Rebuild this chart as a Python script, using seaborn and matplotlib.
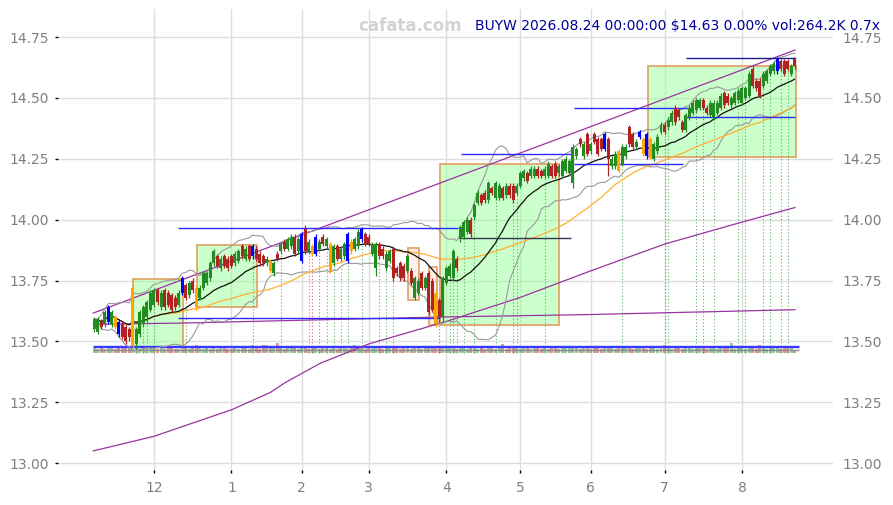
import numpy as np
import pandas as pd
import matplotlib
matplotlib.use("Agg")
import matplotlib.pyplot as plt
import seaborn as sns
from matplotlib.patches import Rectangle

# trading calendar (US market holidays in range)
holidays = ["2025-11-27", "2025-12-25", "2026-01-01", "2026-01-19", "2026-02-16",
            "2026-04-03", "2026-05-25", "2026-06-19", "2026-07-03"]

opens = [13.55, 13.54, 13.58, 13.57, 13.58, 13.57, 13.60, 13.58, 13.57, 13.56,
         13.55, 13.48, 13.49, 13.53, 13.57, 13.60, 13.63, 13.65, 13.71, 13.64,
         13.71, 13.70, 13.69, 13.68, 13.65, 13.70, 13.73, 13.69, 13.75, 13.72,
         13.68, 13.72, 13.74, 13.76, 13.82, 13.85, 13.80, 13.85, 13.84, 13.85,
         13.82, 13.83, 13.89, 13.84, 13.89, 13.85, 13.88, 13.86, 13.85, 13.82,
         13.83, 13.78, 13.86, 13.87, 13.91, 13.88, 13.89, 13.93, 13.87, 13.83,
         13.96, 13.87, 13.89, 13.86, 13.88, 13.93, 13.89, 13.90, 13.82, 13.89,
         13.84, 13.85, 13.83, 13.91, 13.88, 13.89, 13.92, 13.94, 13.93, 13.86,
         13.80, 13.90, 13.88, 13.80, 13.83, 13.88, 13.80, 13.82, 13.81, 13.79,
         13.79, 13.68, 13.70, 13.78, 13.72, 13.78, 13.75, 13.70, 13.67, 13.60,
         13.74, 13.77, 13.76, 13.84, 13.92, 13.93, 13.95, 14.00, 14.01, 14.07,
         14.10, 14.11, 14.08, 14.13, 14.09, 14.09, 14.13, 14.10, 14.14, 14.14,
         14.11, 14.14, 14.17, 14.19, 14.18, 14.18, 14.21, 14.20, 14.18, 14.18,
         14.22, 14.23, 14.19, 14.18, 14.20, 14.19, 14.15, 14.26, 14.33, 14.26,
         14.35, 14.28, 14.35, 14.33, 14.33, 14.29, 14.33, 14.22, 14.22, 14.28,
         14.23, 14.26, 14.38, 14.35, 14.30, 14.34, 14.33, 14.26, 14.33, 14.25,
         14.28, 14.36, 14.39, 14.38, 14.40, 14.46, 14.45, 14.40, 14.37, 14.42,
         14.44, 14.45, 14.46, 14.49, 14.46, 14.43, 14.42, 14.44, 14.46, 14.52,
         14.51, 14.47, 14.48, 14.49, 14.48, 14.50, 14.51, 14.62, 14.57, 14.57,
         14.55, 14.57, 14.60, 14.61, 14.61, 14.65, 14.65, 14.65, 14.60, 14.66]
closes = [13.59, 13.59, 13.56, 13.62, 13.64, 13.62, 13.56, 13.53, 13.52, 13.50,
          13.52, 13.72, 13.55, 13.62, 13.64, 13.66, 13.70, 13.71, 13.66, 13.70,
          13.64, 13.65, 13.63, 13.64, 13.70, 13.76, 13.68, 13.74, 13.71, 13.64,
          13.72, 13.78, 13.78, 13.82, 13.87, 13.81, 13.84, 13.81, 13.80, 13.81,
          13.86, 13.87, 13.85, 13.88, 13.84, 13.89, 13.84, 13.82, 13.82, 13.84,
          13.79, 13.82, 13.84, 13.90, 13.88, 13.92, 13.93, 13.86, 13.92, 13.94,
          13.87, 13.91, 13.86, 13.93, 13.91, 13.90, 13.92, 13.79, 13.89, 13.84,
          13.88, 13.90, 13.94, 13.87, 13.92, 13.95, 13.96, 13.90, 13.90, 13.90,
          13.90, 13.85, 13.85, 13.86, 13.87, 13.76, 13.78, 13.76, 13.76, 13.85,
          13.74, 13.76, 13.75, 13.72, 13.76, 13.62, 13.63, 13.57, 13.60, 13.76,
          13.80, 13.81, 13.87, 13.80, 13.97, 13.99, 14.00, 13.94, 14.06, 14.11,
          14.07, 14.08, 14.15, 14.11, 14.15, 14.14, 14.09, 14.14, 14.10, 14.08,
          14.14, 14.19, 14.20, 14.16, 14.21, 14.21, 14.18, 14.18, 14.21, 14.23,
          14.18, 14.18, 14.22, 14.24, 14.25, 14.24, 14.30, 14.29, 14.31, 14.31,
          14.27, 14.31, 14.32, 14.27, 14.29, 14.35, 14.25, 14.25, 14.27, 14.20,
          14.30, 14.30, 14.31, 14.30, 14.32, 14.36, 14.27, 14.35, 14.26, 14.31,
          14.34, 14.39, 14.36, 14.41, 14.44, 14.40, 14.42, 14.37, 14.43, 14.46,
          14.48, 14.49, 14.49, 14.46, 14.44, 14.48, 14.48, 14.48, 14.51, 14.47,
          14.48, 14.50, 14.52, 14.53, 14.54, 14.54, 14.60, 14.55, 14.54, 14.51,
          14.60, 14.61, 14.63, 14.64, 14.66, 14.62, 14.60, 14.62, 14.63, 14.63]
highs = [13.60, 13.60, 13.59, 13.63, 13.65, 13.63, 13.61, 13.59, 13.58, 13.57,
         13.56, 13.73, 13.56, 13.63, 13.65, 13.67, 13.71, 13.72, 13.72, 13.71,
         13.72, 13.71, 13.70, 13.69, 13.71, 13.77, 13.74, 13.75, 13.76, 13.73,
         13.73, 13.79, 13.79, 13.83, 13.88, 13.86, 13.85, 13.86, 13.85, 13.86,
         13.87, 13.88, 13.90, 13.89, 13.90, 13.90, 13.89, 13.87, 13.86, 13.85,
         13.84, 13.83, 13.87, 13.91, 13.92, 13.93, 13.94, 13.94, 13.93, 13.95,
         13.98, 13.92, 13.90, 13.94, 13.92, 13.94, 13.93, 13.91, 13.90, 13.90,
         13.89, 13.91, 13.95, 13.92, 13.93, 13.96, 13.97, 13.95, 13.94, 13.91,
         13.91, 13.91, 13.89, 13.87, 13.88, 13.89, 13.81, 13.83, 13.82, 13.86,
         13.80, 13.77, 13.76, 13.79, 13.77, 13.79, 13.76, 13.71, 13.68, 13.77,
         13.81, 13.82, 13.88, 13.85, 13.98, 14.00, 14.01, 14.01, 14.07, 14.12,
         14.11, 14.12, 14.16, 14.14, 14.16, 14.15, 14.14, 14.15, 14.15, 14.15,
         14.15, 14.20, 14.21, 14.20, 14.22, 14.22, 14.22, 14.21, 14.22, 14.24,
         14.23, 14.24, 14.23, 14.25, 14.26, 14.25, 14.31, 14.30, 14.34, 14.32,
         14.36, 14.32, 14.36, 14.34, 14.34, 14.36, 14.34, 14.26, 14.28, 14.29,
         14.31, 14.31, 14.39, 14.36, 14.33, 14.37, 14.34, 14.36, 14.34, 14.32,
         14.35, 14.40, 14.40, 14.42, 14.45, 14.47, 14.46, 14.41, 14.44, 14.47,
         14.49, 14.50, 14.50, 14.50, 14.47, 14.49, 14.49, 14.49, 14.52, 14.53,
         14.52, 14.51, 14.53, 14.54, 14.55, 14.55, 14.61, 14.63, 14.58, 14.58,
         14.61, 14.62, 14.64, 14.65, 14.67, 14.66, 14.66, 14.66, 14.64, 14.67]
lows = [13.54, 13.53, 13.55, 13.56, 13.57, 13.56, 13.55, 13.52, 13.51, 13.49,
        13.50, 13.47, 13.47, 13.52, 13.56, 13.58, 13.62, 13.64, 13.65, 13.63,
        13.63, 13.64, 13.62, 13.63, 13.64, 13.69, 13.67, 13.68, 13.70, 13.63,
        13.67, 13.71, 13.73, 13.75, 13.81, 13.80, 13.79, 13.80, 13.79, 13.80,
        13.81, 13.82, 13.84, 13.83, 13.83, 13.84, 13.83, 13.81, 13.81, 13.81,
        13.78, 13.77, 13.83, 13.86, 13.87, 13.87, 13.88, 13.85, 13.86, 13.82,
        13.86, 13.86, 13.85, 13.85, 13.87, 13.89, 13.88, 13.78, 13.81, 13.83,
        13.83, 13.84, 13.82, 13.86, 13.87, 13.88, 13.91, 13.89, 13.89, 13.85,
        13.77, 13.84, 13.84, 13.79, 13.82, 13.75, 13.77, 13.75, 13.75, 13.78,
        13.73, 13.67, 13.69, 13.71, 13.71, 13.61, 13.62, 13.56, 13.58, 13.58,
        13.73, 13.76, 13.75, 13.79, 13.91, 13.92, 13.94, 13.93, 14.00, 14.06,
        14.06, 14.07, 14.07, 14.10, 14.08, 14.08, 14.08, 14.09, 14.09, 14.07,
        14.10, 14.13, 14.16, 14.15, 14.17, 14.17, 14.17, 14.17, 14.17, 14.17,
        14.17, 14.17, 14.18, 14.17, 14.19, 14.18, 14.13, 14.25, 14.30, 14.25,
        14.26, 14.27, 14.31, 14.26, 14.28, 14.28, 14.18, 14.21, 14.21, 14.19,
        14.22, 14.25, 14.30, 14.29, 14.29, 14.33, 14.26, 14.25, 14.25, 14.24,
        14.27, 14.35, 14.35, 14.37, 14.39, 14.39, 14.41, 14.36, 14.36, 14.41,
        14.43, 14.44, 14.45, 14.45, 14.43, 14.42, 14.41, 14.43, 14.45, 14.46,
        14.47, 14.46, 14.47, 14.48, 14.47, 14.49, 14.50, 14.54, 14.53, 14.50,
        14.54, 14.56, 14.59, 14.60, 14.60, 14.61, 14.59, 14.61, 14.59, 14.62]
volumes = [350, 340, 360, 330, 380, 560, 340, 350, 370, 360,
           380, 420, 360, 340, 330, 350, 360, 340, 330, 350,
           340, 360, 350, 330, 340, 380, 350, 340, 360, 620,
           350, 340, 360, 330, 350, 340, 360, 350, 340, 330,
           350, 340, 360, 350, 340, 600, 350, 340, 650, 640,
           360, 350, 820, 350, 340, 360, 350, 560, 340, 350,
           360, 340, 350, 360, 340, 350, 360, 340, 350, 340,
           360, 350, 340, 350, 600, 350, 580, 340, 360, 350,
           370, 350, 340, 360, 350, 380, 350, 340, 360, 350,
           340, 360, 350, 340, 350, 380, 370, 400, 390, 380,
           370, 360, 350, 340, 360, 350, 340, 360, 350, 340,
           350, 340, 360, 350, 340, 350, 700, 340, 350, 360,
           350, 340, 360, 350, 340, 350, 360, 340, 350, 340,
           360, 350, 340, 350, 360, 350, 380, 350, 340, 360,
           350, 340, 360, 350, 340, 360, 560, 350, 340, 350,
           360, 540, 350, 340, 360, 350, 520, 340, 360, 350,
           340, 360, 600, 350, 340, 360, 350, 340, 360, 350,
           340, 560, 350, 360, 340, 350, 360, 340, 350, 360,
           350, 760, 340, 360, 350, 340, 360, 350, 340, 600,
           350, 340, 360, 350, 520, 340, 560, 350, 360, 264.2]

blue_bars = [4, 7, 25, 45, 59, 63, 72, 76, 145, 155, 157, 194]
orange_bars = [6, 11, 29, 50, 62, 67, 73, 97, 149, 156, 158]
buy_marks = [12, 14, 15, 17, 26, 45, 53, 61, 66, 68, 70, 72, 76, 81, 83, 85,
             101, 102, 103, 105, 108, 114, 119, 120, 128, 150, 162, 163, 171,
             173, 176, 183, 185, 190, 192, 195, 197]
sell_marks = [62, 64, 98]

# consolidation zones: start bar, end bar, low, high
zone_start = [11.05, 29.2, 89.2, 95.1, 98.2, 157.3]
zone_end = [25.25, 46.3, 92.2, 97.4, 132.0, 199.3]
zone_low = [13.477, 13.64, 13.67, 13.567, 13.567, 14.257]
zone_high = [13.756, 13.895, 13.883, 13.805, 14.228, 14.63]
zone_kind = ["up", "up", "down", "down", "up", "up"]

# support / resistance levels
level_start = [23.8, 23.8, 104.2, 104.2, 136.3, 136.3, 168.1, 168.1]
level_end = [103.4, 98.2, 135.4, 135.4, 169.2, 167.2, 199.1, 199.1]
level_value = [13.965, 13.598, 14.27, 13.925, 14.46, 14.23, 14.665, 14.42]
level_color = ["#2a2aff", "#2a2aff", "#2a2aff", "#333355", "#2a2aff", "#2a2aff",
               "#1a1a90", "#2a2aff"]

# long trend lines
chan_idx = [-0.3, 199.1]
chan_top = [13.616, 14.697]
curve_idx = [-0.3, 17, 39.2, 50, 54.2, 64.2, 78.1, 99.6, 120.9, 141.1, 162.1, 184, 199.1]
curve_val = [13.05, 13.11, 13.22, 13.29, 13.33, 13.41, 13.49, 13.58, 13.68, 13.79, 13.90, 13.99, 14.05]
slow_idx = [-0.3, 24, 98, 140, 199.1]
slow_val = [13.57, 13.575, 13.60, 13.61, 13.63]
vol_lines = [13.482, 13.475, 13.464]

dates = pd.bdate_range("2025-11-05", "2026-08-24", freq="C", holidays=holidays)
df = pd.DataFrame({"date": dates[:len(closes)], "open": opens, "high": highs,
                   "low": lows, "close": closes, "vol": volumes})
df["x"] = np.arange(len(df))
df["ma20"] = df["close"].rolling(20, min_periods=1).mean()
sd = df["close"].rolling(20, min_periods=1).std(ddof=0)
df["bb_up"] = df["ma20"] + 2 * sd
df["bb_dn"] = df["ma20"] - 2 * sd
df["ma50"] = df["close"].rolling(50, min_periods=1).mean()

sns.set_style("white")
fig = plt.figure(figsize=(8.93, 5.05), dpi=100)
ax = fig.add_axes([0.065, 0.069, 0.868, 0.913])

up = df["close"] >= df["open"]
colors = np.where(up, "#228b22", "#b22222").astype(object)
for i in blue_bars:
    colors[i] = "#0000ff"
for i in orange_bars:
    colors[i] = "#ffa500"

# zones
for x0, x1, lo, hi, k in zip(zone_start, zone_end, zone_low, zone_high, zone_kind):
    fc = (0.6, 1.0, 0.6, 0.5) if k == "up" else (0.98, 0.85, 0.8, 0.4)
    ax.add_patch(Rectangle((x0, lo), x1 - x0, hi - lo, facecolor=fc,
                           edgecolor="#e0a060", lw=1.2, zorder=1))

# volume
vbase = 13.453
vscale = 0.042 / max(volumes)
vcol = np.where(up, "#228b22", "#b22222")
ax.bar(df["x"], df["vol"] * vscale, bottom=vbase, width=0.85, color=vcol,
       alpha=0.45, lw=0, zorder=2)
for y, c in zip(vol_lines, ["#3a3aff", "#3a3aff", "#888888"]):
    ax.hlines(y, -0.3, 200.2, color=c, lw=1.0, zorder=3)

# signal markers
buy_low = [lows[i] for i in buy_marks]
ax.vlines(buy_marks, vbase, buy_low, colors="#3c9e3c", lw=0.8,
          linestyles=(0, (1, 2)), alpha=0.8, zorder=2)
sell_low = [lows[i] for i in sell_marks]
ax.vlines(sell_marks, vbase, sell_low, colors="#d04040", lw=0.8,
          linestyles=(0, (1, 2)), alpha=0.8, zorder=2)

# trend lines
ax.plot(chan_idx, chan_top, color="#9933a0", lw=0.9, zorder=3)
ax.plot(curve_idx, curve_val, color="#9933a0", lw=0.9, zorder=3)
ax.plot(slow_idx, slow_val, color="#9933a0", lw=0.9, zorder=3)

# indicators
sns.lineplot(data=df, x="x", y="bb_up", ax=ax, color="#999999", lw=0.8, zorder=3)
sns.lineplot(data=df, x="x", y="bb_dn", ax=ax, color="#999999", lw=0.8, zorder=3)
sns.lineplot(data=df, x="x", y="ma50", ax=ax, color="#ffb030", lw=0.9, zorder=3)
sns.lineplot(data=df, x="x", y="ma20", ax=ax, color="#111111", lw=0.9, zorder=4)

# levels
for x0, x1, y, c in zip(level_start, level_end, level_value, level_color):
    ax.hlines(y, x0, x1, color=c, lw=1.0, zorder=4)

# candles
ax.vlines(df["x"], df["low"], df["high"], colors=colors, lw=0.9, zorder=5)
body = (df["close"] - df["open"]).abs().clip(lower=0.004)
ax.bar(df["x"], body, bottom=df[["open", "close"]].min(axis=1), width=0.85,
       color=colors, lw=0, zorder=6)

# axes styling
ax.set_xlim(-10.25, 209.9)
ax.set_ylim(12.971, 14.865)
month_pos = [i for i in range(1, len(df)) if df["date"][i].month != df["date"][i - 1].month]
ax.set_xticks(month_pos)
ax.set_xticklabels([str(df["date"][i].month) for i in month_pos])
yt = [13.0, 13.25, 13.5, 13.75, 14.0, 14.25, 14.5, 14.75]
ax.set_yticks(yt)
ax.set_yticklabels([f"{v:.2f}" for v in yt])
ax.grid(True, color="#dddddd", lw=1.0)
ax.set_axisbelow(True)
for s in ax.spines.values():
    s.set_visible(False)
ax.tick_params(axis="y", left=True, right=False, labelleft=True, labelright=True,
               length=2.5, width=1, color="black", pad=4.3, labelsize=10,
               labelcolor="#7f7f7f")
ax.tick_params(axis="x", bottom=True, length=2.5, width=1, color="black", pad=5,
               labelsize=10, labelcolor="#7f7f7f")
ax.set_xlabel("")
ax.set_ylabel("")

fig.text(0.459, 0.9485, "cafata.com", ha="center", va="center", fontsize=12,
         fontweight="bold", color="#d3d3d3")
fig.text(0.985, 0.9485, "BUYW 2026.08.24 00:00:00 $14.63 0.00% vol:264.2K 0.7x",
         ha="right", va="center", fontsize=10, color="#000099")

fig.savefig("out.png", dpi=100)
